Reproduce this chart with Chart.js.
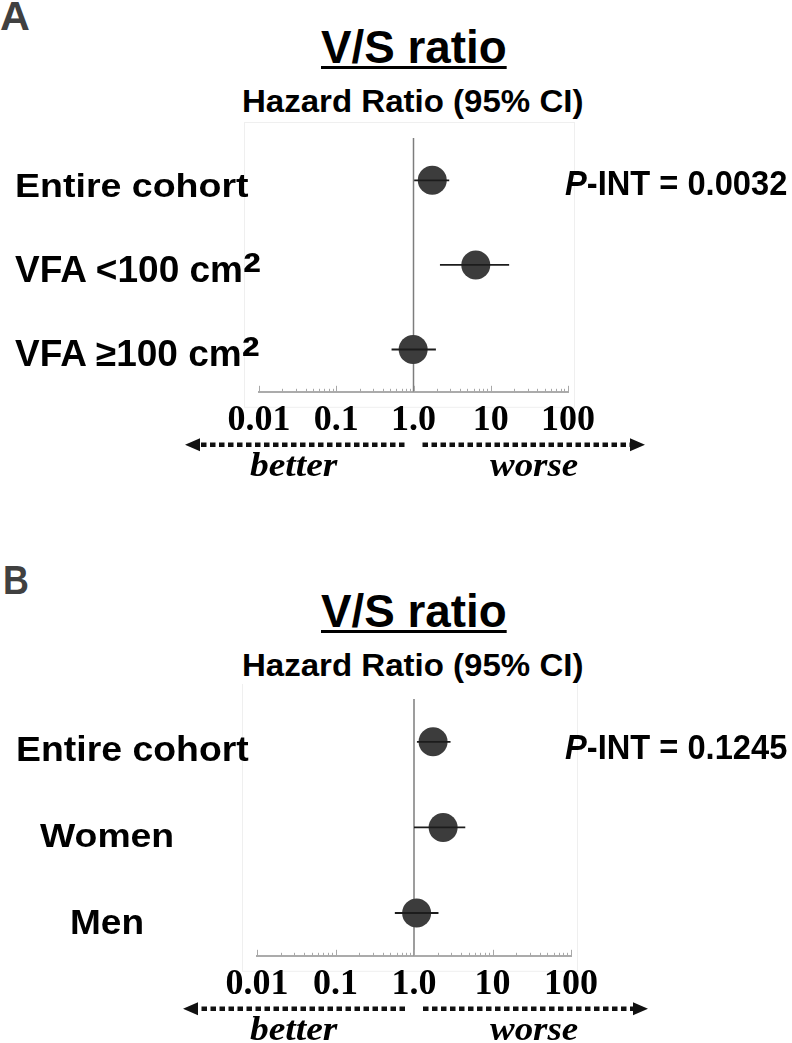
<!DOCTYPE html>
<html>
<head>
<meta charset="utf-8">
<script src="https://cdn.jsdelivr.net/npm/chart.js@4.4.1/dist/chart.umd.min.js"></script>
<style>
html, body { margin: 0; padding: 0; background: #fff; }
#page { position: relative; width: 792px; height: 1043px; overflow: hidden; background: #fff; }
.t { position: absolute; white-space: nowrap; line-height: 1; transform-origin: 0 0; color: #000; }
.sq { font-size: 1.45em; line-height: 0; vertical-align: -8px; }
canvas { position: absolute; }
</style>
</head>
<body>
<div id="page">
    <canvas id="chartA" width="490" height="380" style="left:170px;top:120px"></canvas>
    <canvas id="chartB" width="490" height="359" style="left:170px;top:684px"></canvas>
</div>
<script>
// A: V/S ratio by visceral fat area
const rowsA = ['Entire cohort', 'VFA <100 cm<span class="sq">²</span>', 'VFA ≥100 cm<span class="sq">²</span>'];
const hrA = [1.75, 6.4, 0.99];
const loA = [1.02, 2.2, 0.52];
const hiA = [2.9, 17.3, 1.95];
const pIntA = '0.0032';

// B: V/S ratio by sex
const rowsB = ['Entire cohort', 'Women', 'Men'];
const hrB = [1.75, 2.35, 1.08];
const loB = [1.09, 1.0, 0.57];
const hiB = [2.92, 4.5, 2.05];
const pIntB = '0.1245';

const tickValues = [0.01, 0.1, 1, 10, 100];
const tickLabels = ['0.01', '0.1', '1.0', '10', '100'];
const refValue = 1;

const SANS = '"Liberation Sans", Arial, sans-serif';
const SERIF = '"Liberation Serif", "Times New Roman", serif';
const page = document.getElementById('page');

// place text by its baseline, optionally stretched to a given width
function addText(html, o) {
    const el = document.createElement('div');
    el.className = 't';
    el.innerHTML = html;
    el.style.fontFamily = o.serif ? SERIF : SANS;
    el.style.fontSize = o.size + 'px';
    el.style.fontWeight = o.bold === false ? 'normal' : 'bold';
    if (o.italic) el.style.fontStyle = 'italic';
    if (o.color) el.style.color = o.color;
    if (o.underline) {
        el.style.textDecoration = 'underline';
        el.style.textDecorationThickness = '3px';
        el.style.textUnderlineOffset = '3px';
    }
    el.style.top = (o.base - (o.serif ? 0.8375 : 0.8465) * o.size) + 'px';
    page.appendChild(el);
    const w = el.offsetWidth;
    const tw = o.width || w;
    const left = o.center !== undefined ? o.center - tw / 2 : o.left;
    el.style.left = left + 'px';
    if (o.width) el.style.transform = 'scaleX(' + (o.width / w) + ')';
}

function panelText(letter, rows, rowStyle, pInt, dy) {
    addText(letter, {left: letter === 'A' ? 0 : 3, base: 30 + dy, size: 40, width: letter === 'A' ? 30 : 26, color: '#404040'});
    addText('V/S ratio', {left: 321, base: 63 + dy, size: 47, width: 186, underline: true});
    addText('Hazard Ratio (95% CI)', {left: 242, base: 112 + dy, size: 31, width: 341});
    rows.forEach((r, i) => addText(r, Object.assign({}, rowStyle[i], {base: rowStyle[i].base + dy})));
    addText('<i>P</i>-INT = ' + pInt, {left: 565, base: 195 + dy, size: 35, width: 222});
    addText('better', {center: 293, base: 476 + dy, size: 34, serif: true, italic: true, width: 87});
    addText('worse', {center: 534, base: 476 + dy, size: 34, serif: true, italic: true, width: 88});
}

panelText('A', rowsA, [
    {left: 15, base: 197, size: 34, width: 234},
    {left: 15, base: 282, size: 37},
    {left: 15, base: 366, size: 37}
], pIntA, 0);

panelText('B', rowsB, [
    {left: 16, base: 197, size: 35, width: 233},
    {left: 40, base: 283, size: 34, width: 134},
    {left: 70, base: 370, size: 35, width: 74}
], pIntB, 564);

const decor = {
    id: 'decor',
    beforeDraw(chart) {
        const {ctx, chartArea: a} = chart;
        ctx.save();
        ctx.strokeStyle = '#efefef';
        ctx.lineWidth = 1;
        ctx.strokeRect(a.left - 14.5, a.top - 15.5, a.right - a.left + 21, a.bottom - a.top + 31);
        ctx.restore();
    },
    afterDraw(chart) {
        const {ctx, chartArea: a, scales: {x}} = chart;
        ctx.save();
        // log ticks pointing up from the axis
        ctx.strokeStyle = '#a8a8a8';
        ctx.lineWidth = 1;
        for (let e = -2; e <= 2; e++) {
            for (let k = 1; k < 10; k++) {
                const v = k * Math.pow(10, e);
                if (v > 100.0001) break;
                const px = Math.round(x.getPixelForValue(v)) + 0.5;
                ctx.beginPath();
                ctx.moveTo(px, a.bottom);
                ctx.lineTo(px, a.bottom - (k === 1 ? 6 : 3));
                ctx.stroke();
            }
        }
        // better / worse arrows
        const y = a.bottom + 53;
        const mid = x.getPixelForValue(refValue);
        const lTip = a.left - 74, rTip = a.right + 77;
        ctx.strokeStyle = '#111';
        ctx.fillStyle = '#111';
        ctx.lineWidth = 4.5;
        ctx.setLineDash([5.5, 3.5]);
        ctx.beginPath();
        ctx.moveTo(mid - 9, y); ctx.lineTo(lTip + 14, y);
        ctx.moveTo(mid + 9, y); ctx.lineTo(rTip - 14, y);
        ctx.stroke();
        ctx.setLineDash([]);
        ctx.beginPath();
        ctx.moveTo(lTip, y); ctx.lineTo(lTip + 15, y - 6.5); ctx.lineTo(lTip + 15, y + 6.5); ctx.closePath();
        ctx.moveTo(rTip, y); ctx.lineTo(rTip - 15, y - 6.5); ctx.lineTo(rTip - 15, y + 6.5); ctx.closePath();
        ctx.fill();
        ctx.restore();
    }
};

function makeChart(id, hr, lo, hi, pad) {
    const ciSets = hr.map((v, i) => ({
        data: [{x: lo[i], y: i}, {x: hi[i], y: i}],
        showLine: true, borderColor: '#1c1c1c', borderWidth: 1.8, pointRadius: 0, order: 0
    }));
    const pointSet = {
        data: hr.map((v, i) => ({x: v, y: i})),
        pointRadius: 14.5, pointBackgroundColor: '#3c3c3c', pointBorderWidth: 0, borderWidth: 0, order: 1
    };
    const refSet = {
        data: [{x: refValue, y: -0.5}, {x: refValue, y: hr.length - 0.5}],
        showLine: true, borderColor: '#7d7d7d', borderWidth: 1.5, pointRadius: 0, order: 2
    };
    return new Chart(document.getElementById(id).getContext('2d'), {
        type: 'scatter',
        data: {datasets: [...ciSets, pointSet, refSet]},
        options: {
            responsive: false,
            animation: false,
            events: [],
            layout: {padding: pad},
            plugins: {legend: {display: false}, tooltip: {enabled: false}},
            scales: {
                x: {
                    type: 'logarithmic', min: 0.01, max: 100,
                    afterBuildTicks: s => { s.ticks = tickValues.map(v => ({value: v})); },
                    ticks: {
                        autoSkip: false, maxRotation: 0, padding: 7, color: '#000',
                        font: {family: SERIF, size: 36, weight: 'bold'},
                        callback: (v, i) => tickLabels[i]
                    },
                    grid: {drawOnChartArea: false, drawTicks: false},
                    border: {display: true, color: '#ababab', width: 2}
                },
                y: {type: 'linear', min: -0.5, max: hr.length - 0.5, reverse: true, display: false}
            }
        },
        plugins: [decor]
    });
}

makeChart('chartA', hrA, loA, hiA, {left: 89, right: 92, top: 18, bottom: 51});
makeChart('chartB', hrB, loB, hiB, {left: 87, right: 89, top: 15, bottom: 30});
</script>
</body>
</html>
